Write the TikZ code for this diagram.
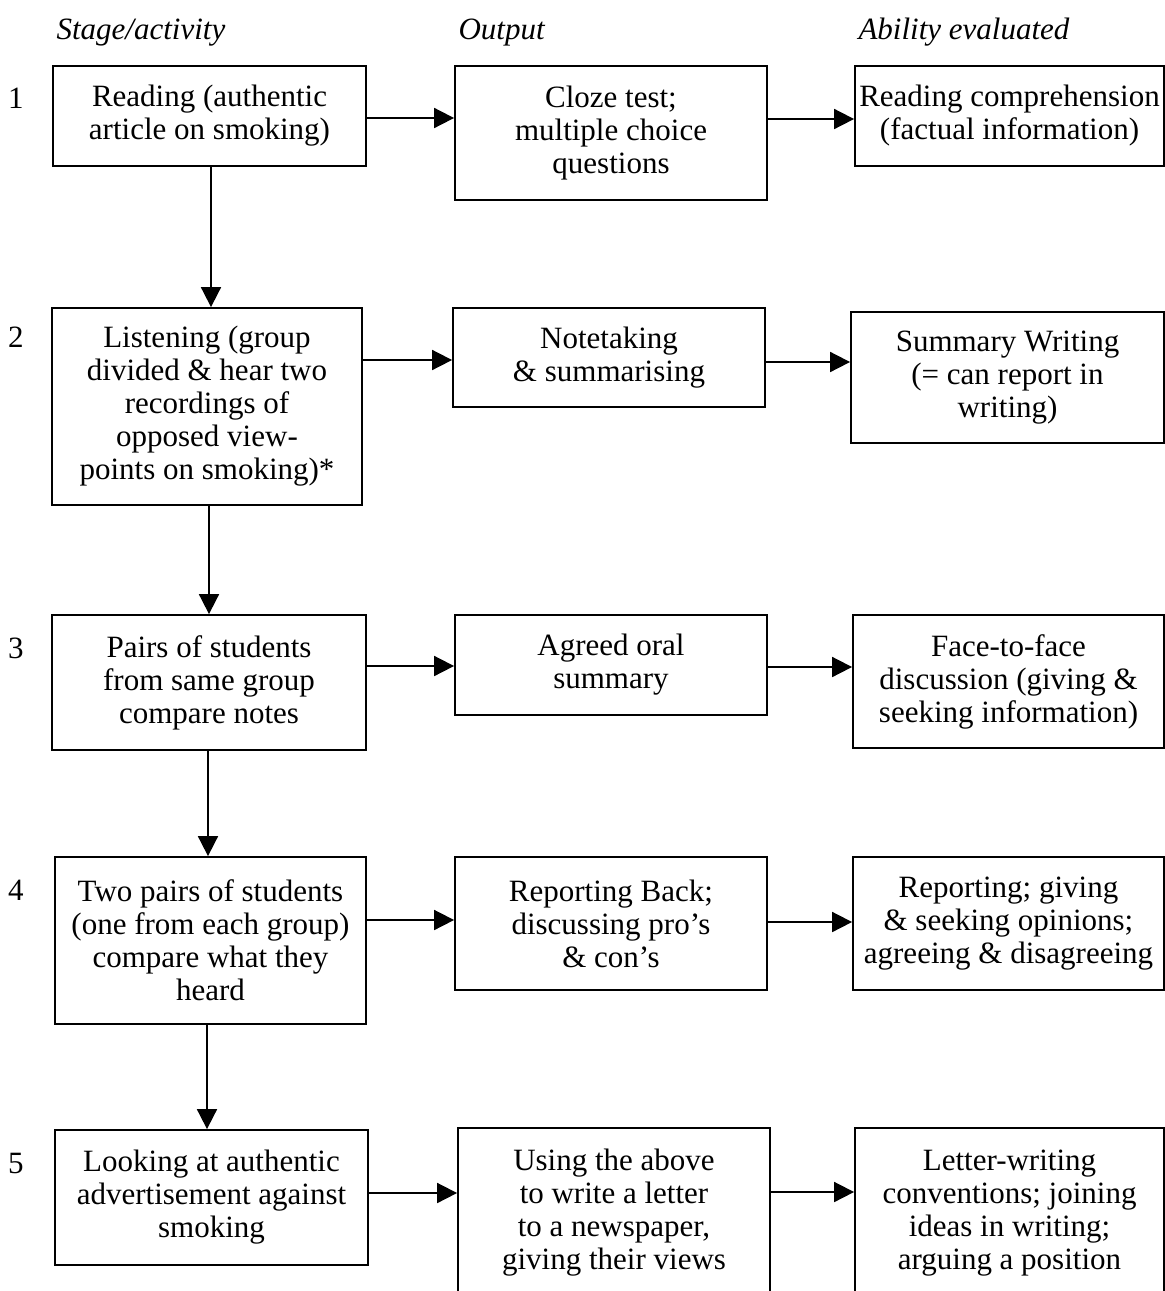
\documentclass[tikz,border=0pt]{standalone}
\usepackage{fontspec}
\setmainfont{Liberation Serif}
\usetikzlibrary{arrows.meta}
\begin{document}
\begin{tikzpicture}[x=1pt,y=-1pt,
  every node/.style={font=\fontsize{31}{33}\selectfont},
  box/.style={draw, line width=1.8pt, inner sep=0pt, align=center},
  arr/.style={line width=1.8pt, -{Triangle[length=20pt,width=20pt]}},
  head/.style={anchor=base west, font=\fontsize{31}{33}\selectfont\itshape},
  num/.style={anchor=center}]
\useasboundingbox (0,0) rectangle (1165,1291);
\fill[white] (0,0) rectangle (1165,1291);

% headers
\node[head] (h1) at (53,39) {Stage/activity};
\node[head] (h2) at (455,39) {Output};
\node[head] (h3) at (855,39) {Ability evaluated};

% stage numbers
\node[num] (n1) at (16,98) {1};
\node[num] (n2) at (16,337) {2};
\node[num] (n3) at (16,648) {3};
\node[num] (n4) at (16,890) {4};
\node[num] (n5) at (16,1163) {5};

% column 1
\node[box, minimum width=313pt, minimum height=100pt] (B11) at (209.5,116) {Reading (authentic\\article on smoking)};
\node[box, minimum width=310pt, minimum height=197pt] (B21) at (207,406.5) {Listening (group\\divided \& hear two\\recordings of\\opposed view-\\points on smoking)*};
\node[box, minimum width=314pt, minimum height=135pt] (B31) at (209,682.5) {Pairs of students\\from same group\\compare notes};
\node[box, minimum width=311pt, minimum height=167pt] (B41) at (210.5,940.5) {Two pairs of students\\(one from each group)\\compare what they\\heard};
\node[box, minimum width=313pt, minimum height=135pt] (B51) at (211.5,1197.5) {Looking at authentic\\advertisement against\\smoking};

% column 2
\node[box, minimum width=312pt, minimum height=134pt] (B12) at (611,133) {Cloze test;\\multiple choice\\questions};
\node[box, minimum width=312pt, minimum height=99pt] (B22) at (609,357.5) {Notetaking\\\& summarising};
\node[box, minimum width=312pt, minimum height=100pt] (B32) at (611,665) {Agreed oral\\summary};
\node[box, minimum width=312pt, minimum height=133pt] (B42) at (611,923.5) {Reporting Back;\\discussing pro’s\\\& con’s};
\node[box, minimum width=312pt, minimum height=170pt] (B52) at (614,1213) {Using the above\\to write a letter\\to a newspaper,\\giving their views};

% column 3
\node[box, minimum width=309pt, minimum height=100pt] (B13) at (1009.5,116) {Reading comprehension\\(factual information)};
\node[box, minimum width=313pt, minimum height=131pt] (B23) at (1007.5,377.5) {Summary Writing\\(= can report in\\writing)};
\node[box, minimum width=311pt, minimum height=133pt] (B33) at (1008.5,681.5) {Face-to-face\\discussion (giving \&\\seeking information)};
\node[box, minimum width=311pt, minimum height=133pt] (B43) at (1008.5,923.5) {Reporting; giving\\\& seeking opinions;\\agreeing \& disagreeing};
\node[box, minimum width=309pt, minimum height=170pt] (B53) at (1009.5,1213) {Letter-writing\\conventions; joining\\ideas in writing;\\arguing a position};

% horizontal arrows
\draw[arr] (B11.east |- 0,118) -- (B12.west |- 0,118);
\draw[arr] (B12.east |- 0,119) -- (B13.west |- 0,119);
\draw[arr] (B21.east |- 0,360) -- (B22.west |- 0,360);
\draw[arr] (B22.east |- 0,362) -- (B23.west |- 0,362);
\draw[arr] (B31.east |- 0,666) -- (B32.west |- 0,666);
\draw[arr] (B32.east |- 0,667) -- (B33.west |- 0,667);
\draw[arr] (B41.east |- 0,920) -- (B42.west |- 0,920);
\draw[arr] (B42.east |- 0,922) -- (B43.west |- 0,922);
\draw[arr] (B51.east |- 0,1193) -- (B52.west |- 0,1193);
\draw[arr] (B52.east |- 0,1192) -- (B53.west |- 0,1192);

% vertical arrows
\draw[arr] (B11.south -| 211,0) -- (B21.north -| 211,0);
\draw[arr] (B21.south -| 209,0) -- (B31.north -| 209,0);
\draw[arr] (B31.south -| 208,0) -- (B41.north -| 208,0);
\draw[arr] (B41.south -| 207,0) -- (B51.north -| 207,0);
\end{tikzpicture}
\end{document}
